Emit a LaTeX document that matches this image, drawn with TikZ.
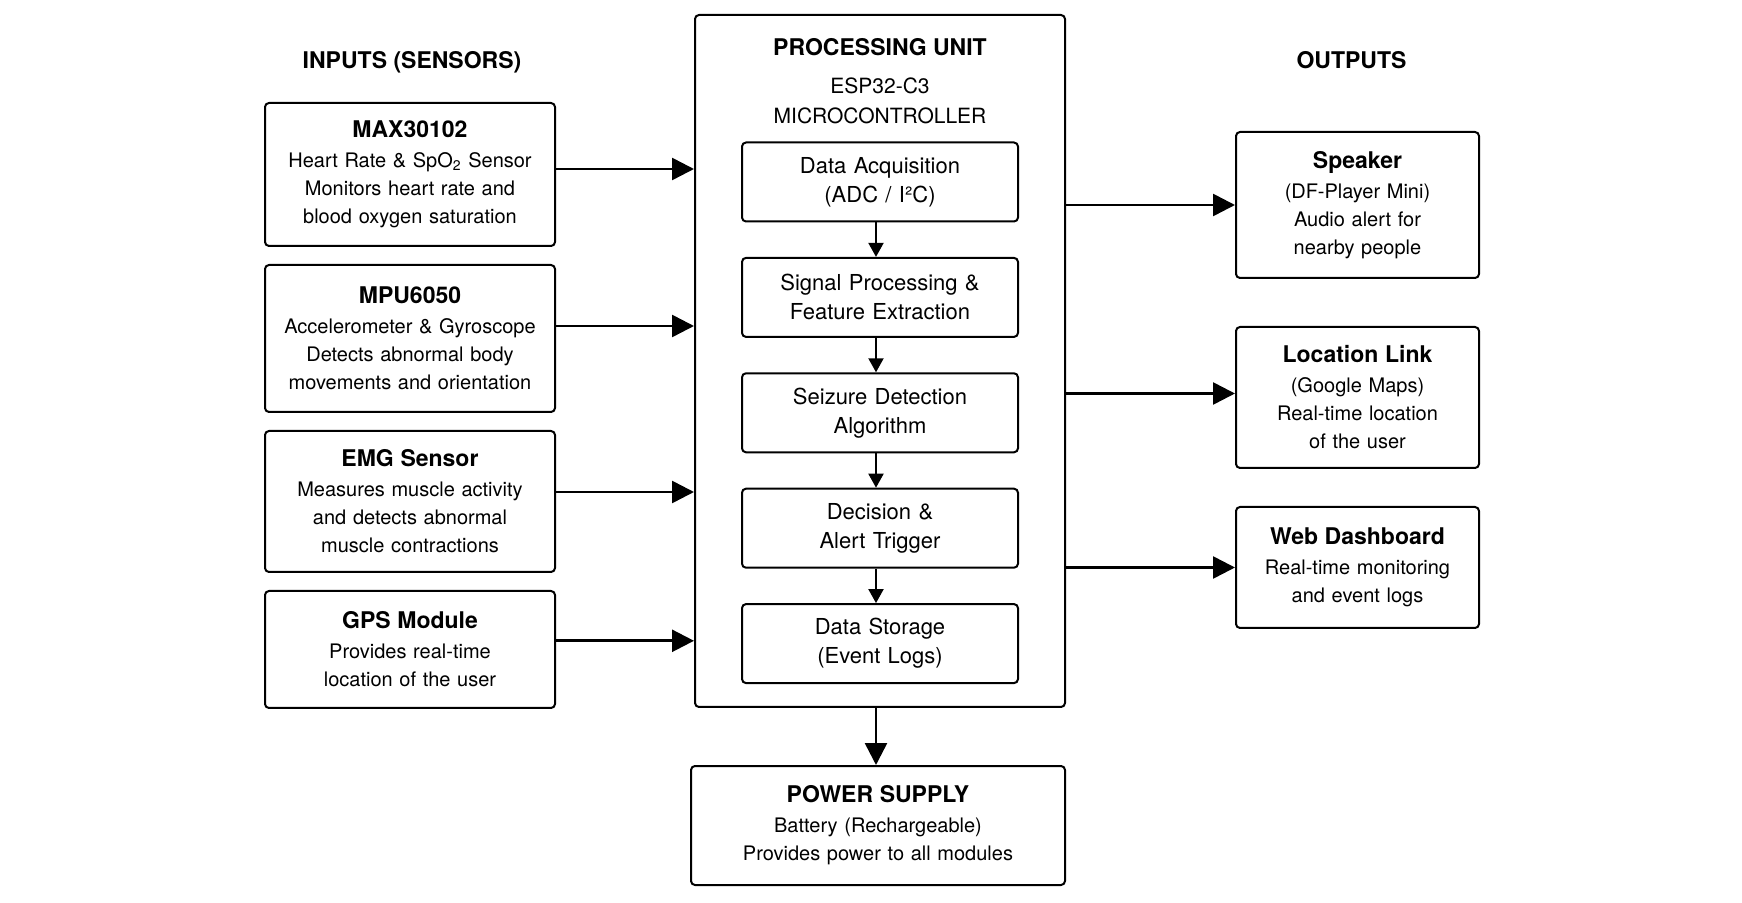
\documentclass[tikz,border=0pt]{standalone}
\usepackage{fontspec}
\setmainfont{TeX Gyre Heros}
\usetikzlibrary{positioning,arrows.meta}
\newcommand{\blocktitle}[1]{{\fontsize{11.5}{14}\selectfont\bfseries #1}}

\begin{document}
\begin{tikzpicture}
      [ x=0.5pt, y=-0.5pt, inner sep=2pt, node distance=8.5pt,
        block/.style={draw, line width=1pt, rounded corners=2pt, align=center,
                      font=\fontsize{10}{14}\selectfont},
        sensor/.style={block, minimum width=145pt, text width=141pt},
        stage/.style={block, minimum width=138pt, minimum height=39.5pt,
                      text width=134pt, font=\fontsize{11}{14.5}\selectfont},
        output/.style={block, minimum width=121.5pt, text width=117pt},
        heading/.style={font=\fontsize{11.5}{14}\selectfont\bfseries, anchor=base},
        link/.style={-{Triangle[length=11pt,width=11pt]}, line width=1.3pt},
        flow/.style={-{Triangle[length=7pt,width=7.5pt]}, line width=1pt}
      ]
      \useasboundingbox (0,0) rectangle (1742,903);

      % inputs
      \node[heading]                          (inhead) at (412,69)      {INPUTS (SENSORS)};
      \node[sensor, minimum height=71.5pt]    (max)    at (410,174.5)   {\blocktitle{MAX30102}\\[1pt]Heart Rate \& SpO\textsubscript{2} Sensor\\Monitors heart rate and\\blood oxygen saturation};
      \node[sensor, minimum height=73.5pt]    (mpu)    [below=of max]   {\blocktitle{MPU6050}\\[1pt]Accelerometer \& Gyroscope\\Detects abnormal body\\movements and orientation};
      \node[sensor, minimum height=70.5pt]    (emg)    [below=of mpu]   {\blocktitle{EMG Sensor}\\[1pt]Measures muscle activity\\and detects abnormal\\muscle contractions};
      \node[sensor, minimum height=58.5pt]    (gps)    [below=of emg]   {\blocktitle{GPS Module}\\[1pt]Provides real-time\\location of the user};

      % processing unit
      \node[draw, line width=1pt, rounded corners=2pt,
            minimum width=185pt, minimum height=346pt] (pu) at (880,361) {};
      \node[anchor=north, align=center, inner sep=0pt,
            font=\fontsize{10.5}{15}\selectfont] (putitle) at ([yshift=-12pt]pu.north)
            {\blocktitle{PROCESSING UNIT}\\[3.8pt]ESP32-C3\\MICROCONTROLLER};
      \node[stage]                            (acq)    at (880,182)            {Data Acquisition\\(ADC / I²C)};
      \node[stage]                            (sig)    [below=17.2pt of acq]   {Signal Processing \&\\Feature Extraction};
      \node[stage]                            (det)    [below=17.2pt of sig]   {Seizure Detection\\Algorithm};
      \node[stage]                            (dec)    [below=17.2pt of det]   {Decision \&\\Alert Trigger};
      \node[stage]                            (sto)    [below=17.2pt of dec]   {Data Storage\\(Event Logs)};

      % outputs
      \node[heading]                          (outhead) at (1351.5,69)     {OUTPUTS};
      \node[output, minimum height=73pt]      (spk)    at (1357.5,205)     {\blocktitle{Speaker}\\[1pt](DF-Player Mini)\\Audio alert for\\nearby people};
      \node[output, minimum height=70.5pt]    (loc)    [below=23.5pt of spk] {\blocktitle{Location Link}\\[1pt](Google Maps)\\Real-time location\\of the user};
      \node[output, minimum height=60.5pt]    (web)    [below=18.5pt of loc] {\blocktitle{Web Dashboard}\\[1pt]Real-time monitoring\\and event logs};

      % power
      \node[block, minimum width=187pt, minimum height=59.5pt, text width=183pt]
                                              (pwr)    [below=28.5pt of pu, xshift=-1pt] {\blocktitle{POWER SUPPLY}\\[1pt]Battery (Rechargeable)\\Provides power to all modules};

      \path[link] ([yshift=2.75pt]max.east) edge ([yshift=2.75pt]max.east -| pu.west)
                  ([yshift=6.25pt]mpu.east) edge ([yshift=6.25pt]mpu.east -| pu.west)
                  ([yshift=4.75pt]emg.east) edge ([yshift=4.75pt]emg.east -| pu.west)
                  ([yshift=4.35pt]gps.east) edge ([yshift=4.35pt]gps.east -| pu.west)
                  (pu.east |- spk.west)    edge (spk.west)
                  ([yshift=2pt]pu.east |- loc.west) edge ([yshift=2pt]loc.west)
                  (pu.east |- web.west)    edge (web.west)
                  ([xshift=-2pt]pu.south)  edge ([xshift=-2pt]pu.south |- pwr.north);

      \path[flow] ([xshift=-2pt]acq.south) edge ([xshift=-2pt]sig.north)
                  ([xshift=-2pt]sig.south) edge ([xshift=-2pt]det.north)
                  ([xshift=-2pt]det.south) edge ([xshift=-2pt]dec.north)
                  ([xshift=-2pt]dec.south) edge ([xshift=-2pt]sto.north);

    \end{tikzpicture}
\end{document}
